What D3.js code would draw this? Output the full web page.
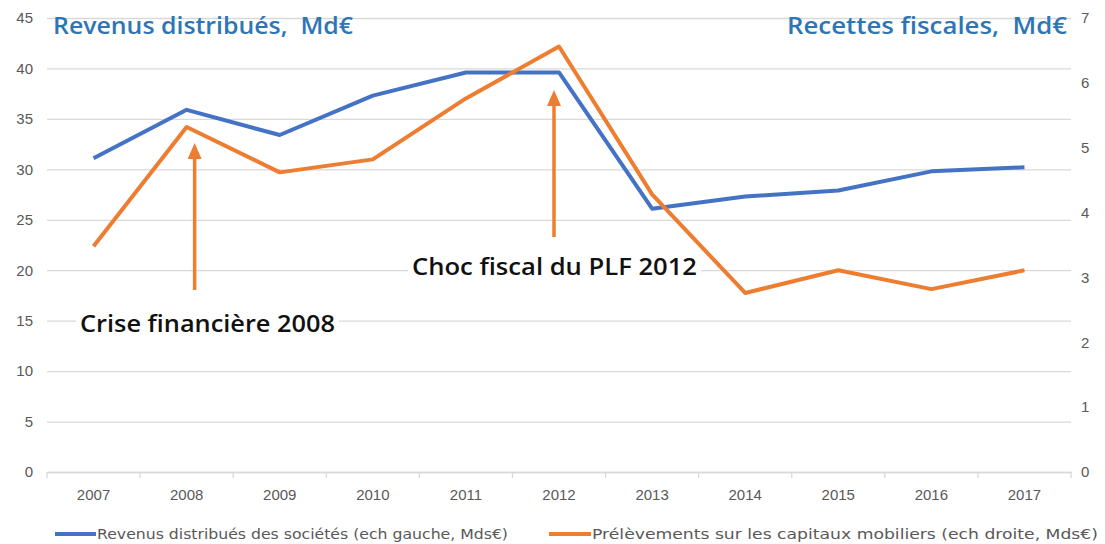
<!DOCTYPE html>
<html>
<head>
<meta charset="utf-8">
<script src="https://cdn.jsdelivr.net/npm/d3@7"></script>
<style>
  body { margin: 0; background: #fff; }
  svg { display: block; font-family: "DejaVu Sans", "Noto Sans", sans-serif; }
  text { white-space: pre; }
</style>
</head>
<body>
<div id="chart"></div>
<script>
const years = ["2007","2008","2009","2010","2011","2012","2013","2014","2015","2016","2017"];
const revenus = [31.1, 35.9, 33.4, 37.3, 39.6, 39.6, 26.1, 27.3, 27.9, 29.8, 30.2];
const prelevements = [3.48, 5.32, 4.62, 4.82, 5.76, 6.56, 4.28, 2.76, 3.11, 2.82, 3.11];
const leftTicks = [0, 5, 10, 15, 20, 25, 30, 35, 40, 45];
const rightTicks = [0, 1, 2, 3, 4, 5, 6, 7];
const legendLabels = ["Revenus distribués des sociétés (ech gauche, Mds€)", "Prélèvements sur les capitaux mobiliers (ech droite, Mds€)"];
const titles = ["Revenus distribués,  Md€", "Recettes fiscales,  Md€"];
const notes = ["Crise financière 2008", "Choc fiscal du PLF 2012"];
const noteYears = ["2008", "2012"];

const W = 1105, H = 544;
const blue = "#4472c4", orange = "#ed7d31", grid = "#d9d9d9", tickCol = "#595959";

const svg = d3.select("#chart").append("svg")
  .attr("width", W).attr("height", H);

const x = d3.scaleBand().domain(years).range([47, 1071]).padding(0);
const yL = d3.scaleLinear().domain([0, 45]).range([472, 18]);
const yR = d3.scaleLinear().domain([0, 7]).range([472, 18]);

// gridlines + left labels
const gl = svg.append("g")
  .attr("transform", "translate(47,0)")
  .call(d3.axisLeft(yL).tickValues(leftTicks).tickSize(-(1071 - 47)).tickPadding(14));
gl.select(".domain").remove();
gl.selectAll("line").attr("stroke", grid).attr("stroke-width", 1.3);
gl.selectAll("text").attr("fill", tickCol).attr("font-size", 15);

// right labels
const gr = svg.append("g")
  .attr("transform", "translate(1071,0)")
  .call(d3.axisRight(yR).tickValues(rightTicks).tickFormat(d3.format("d")).tickSize(0).tickPadding(10));
gr.select(".domain").remove();
gr.selectAll("text").attr("fill", tickCol).attr("font-size", 15);

// x axis
const gx = svg.append("g")
  .attr("transform", "translate(0,472)")
  .call(d3.axisBottom(x).tickSize(0).tickPadding(17));
gx.select(".domain").attr("stroke", grid).attr("stroke-width", 1.3);
gx.selectAll("text").attr("fill", tickCol).attr("font-size", 15);
svg.append("g").selectAll("line")
  .data(years.concat(["end"]))
  .join("line")
  .attr("x1", (d, i) => 47 + i * x.bandwidth())
  .attr("x2", (d, i) => 47 + i * x.bandwidth())
  .attr("y1", 472).attr("y2", 478)
  .attr("stroke", grid).attr("stroke-width", 1.3);

// lines
const cx = d => x(d) + x.bandwidth() / 2;
svg.append("path")
  .datum(revenus)
  .attr("fill", "none").attr("stroke", blue).attr("stroke-width", 4)
  .attr("stroke-linejoin", "round")
  .attr("d", d3.line().x((d, i) => cx(years[i])).y(d => yL(d)));
svg.append("path")
  .datum(prelevements)
  .attr("fill", "none").attr("stroke", orange).attr("stroke-width", 4)
  .attr("stroke-linejoin", "round")
  .attr("d", d3.line().x((d, i) => cx(years[i])).y(d => yR(d)));

// titles
svg.append("text").attr("x", 53).attr("y", 34)
  .attr("fill", "#2e75b6").attr("font-size", 23)
  .attr("font-family", "'Open Sans', sans-serif").attr("font-weight", 600)
  .attr("textLength", 300).attr("lengthAdjust", "spacingAndGlyphs")
  .text(titles[0]);
svg.append("text").attr("x", 1067).attr("y", 34)
  .attr("text-anchor", "end")
  .attr("fill", "#2e75b6").attr("font-size", 23)
  .attr("font-family", "'Open Sans', sans-serif").attr("font-weight", 600)
  .attr("textLength", 280).attr("lengthAdjust", "spacingAndGlyphs")
  .text(titles[1]);

// annotations: arrows + boxed text
const arrowSpec = [
  { dx: 8, tip: 143, tail: 290, tx: 80, ty: 332, tw: 255 },
  { dx: -5, tip: 90, tail: 237, tx: 412, ty: 275, tw: 285 }
];
arrowSpec.forEach((a, i) => {
  const ax = cx(noteYears[i]) + a.dx;
  const g = svg.append("g");
  g.append("line")
    .attr("x1", ax).attr("x2", ax)
    .attr("y1", a.tail).attr("y2", a.tip + 14)
    .attr("stroke", orange).attr("stroke-width", 3.5);
  g.append("path")
    .attr("d", `M${ax},${a.tip} L${ax - 7},${a.tip + 16} L${ax + 7},${a.tip + 16} Z`)
    .attr("fill", orange);
  g.append("rect")
    .attr("x", a.tx - 4).attr("y", a.ty - 24)
    .attr("width", a.tw + 8).attr("height", 32)
    .attr("fill", "#fff");
  g.append("text")
    .attr("x", a.tx).attr("y", a.ty)
    .attr("fill", "#111").attr("font-size", 24)
    .attr("font-family", "'Open Sans', sans-serif").attr("font-weight", 600)
    .attr("textLength", a.tw).attr("lengthAdjust", "spacingAndGlyphs")
    .text(notes[i]);
});

// legend
const legend = [
  { color: blue, x1: 55, x2: 96, tw: 411 },
  { color: orange, x1: 549, x2: 591, tw: 506 }
];
legend.forEach((l, i) => {
  svg.append("line")
    .attr("x1", l.x1).attr("x2", l.x2).attr("y1", 534).attr("y2", 534)
    .attr("stroke", l.color).attr("stroke-width", 4);
  svg.append("text")
    .attr("x", l.x2 + 1).attr("y", 539)
    .attr("fill", tickCol).attr("font-size", 14)
    .attr("textLength", l.tw).attr("lengthAdjust", "spacingAndGlyphs")
    .text(legendLabels[i]);
});
</script>
</body>
</html>
